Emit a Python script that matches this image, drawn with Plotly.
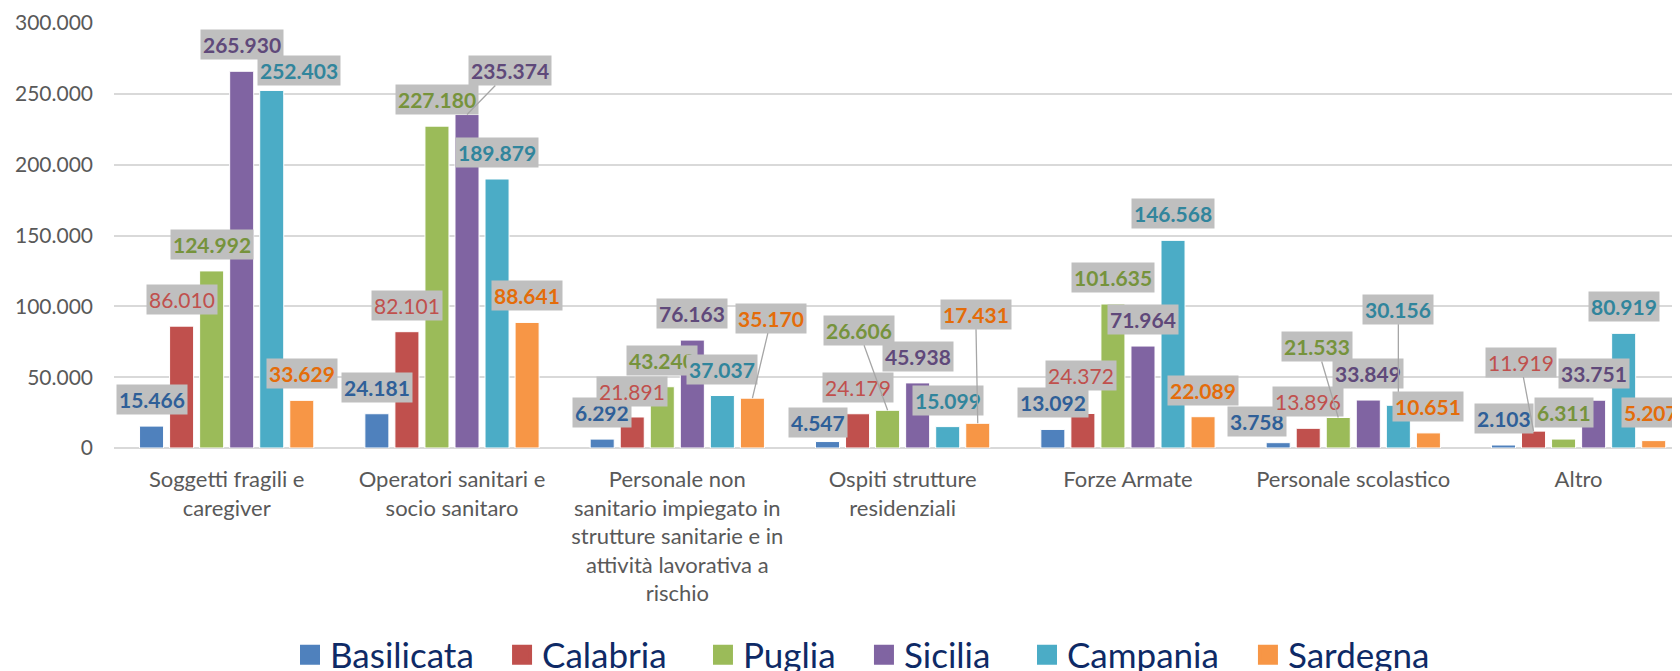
import plotly.graph_objects as go

categories = [
    "Soggetti fragili e<br>caregiver",
    "Operatori sanitari e<br>socio sanitaro",
    "Personale non<br>sanitario impiegato in<br>strutture sanitarie e in<br>attività lavorativa a<br>rischio",
    "Ospiti strutture<br>residenziali",
    "Forze Armate",
    "Personale scolastico",
    "Altro",
]

basilicata = [15466, 24181, 6292, 4547, 13092, 3758, 2103]
calabria = [86010, 82101, 21891, 24179, 24372, 13896, 11919]
puglia = [124992, 227180, 43240, 26606, 101635, 21533, 6311]
sicilia = [265930, 235374, 76163, 45938, 71964, 33849, 33751]
campania = [252403, 189879, 37037, 15099, 146568, 30156, 80919]
sardegna = [33629, 88641, 35170, 17431, 22089, 10651, 5207]

series = [
    ("Basilicata", basilicata, "#4F81BD", "#2F5F98", True),
    ("Calabria", calabria, "#C0504D", "#C0504D", False),
    ("Puglia", puglia, "#9BBB59", "#76933C", True),
    ("Sicilia", sicilia, "#8064A2", "#5F497A", True),
    ("Campania", campania, "#4BACC6", "#31859C", True),
    ("Sardegna", sardegna, "#F79646", "#E46C0A", True),
]

# label moves done by hand in the original: (series, category) -> (dx px, lift px, leader line)
label_moves = {
    (4, 0): (27, 20, False),
    (3, 1): (43, 44, True),
    (5, 2): (19, 80, True),
    (1, 2): (0, 25, False),
    (0, 3): (-10, 19, False),
    (2, 3): (-29, 80, True),
    (5, 3): (-2, 109, True),
    (1, 4): (-2, 38, False),
    (0, 5): (-21, 21, False),
    (2, 5): (-21, 71, True),
    (4, 5): (0, 96, True),
    (1, 6): (-13, 69, True),
    (5, 6): (-3, 28, False),
}

# one small legend per series, so the spacing can follow the original
legend_x = [0.1124, 0.2478, 0.3761, 0.4789, 0.5830, 0.7241]

bargap = 0.2
font = "Lato, 'Open Sans', sans-serif"

fig = go.Figure()
for name, vals, color, _, _ in series:
    fig.add_trace(go.Bar(
        name=name, x=categories, y=vals, showlegend=False,
        marker=dict(color=color, line=dict(color="white", width=1)),
    ))
# legend entries with bigger squares than the bar default
for i, (name, vals, color, _, _) in enumerate(series):
    fig.add_trace(go.Scatter(
        name=name, x=[None], y=[None], mode="markers",
        legend="legend" if i == 0 else f"legend{i + 1}",
        marker=dict(symbol="square", size=20, color=color, line=dict(color=color, width=4)),
    ))

annotations = []
slot = (1 - bargap) / len(series)
for si, (name, vals, _, tcolor, bold) in enumerate(series):
    for ci, v in enumerate(vals):
        dx, lift, leader = label_moves.get((si, ci), (0, 26.5, False))
        txt = f"{v:,}".replace(",", ".")
        annotations.append(dict(
            x=ci + (si - 2.5) * slot, y=v, xref="x", yref="y",
            text=f"<b>{txt}</b>" if bold else txt,
            showarrow=True, arrowhead=0, arrowwidth=1.3,
            arrowcolor="#A6A6A6" if leader else "rgba(0,0,0,0)",
            ax=dx, ay=-lift,
            bgcolor="#BFBFBF", borderpad=2,
            font=dict(family=font, size=21, color=tcolor),
        ))

# the page body adds an 8px offset, so the figure is 8px smaller than the window
fig.update_layout(
    width=1672, height=663,
    barmode="group", bargap=bargap, bargroupgap=0.2,
    separators=",.",
    plot_bgcolor="white", paper_bgcolor="white",
    margin=dict(l=106, r=0, t=15, b=223, autoexpand=False),
    xaxis=dict(
        type="category", range=[-0.5, 6.45], showgrid=False, showline=False,
        tickfont=dict(family=font, size=22, color="#595959"),
        ticklabelstandoff=16,
    ),
    yaxis=dict(
        range=[0, 300000], dtick=50000, tickformat=",.0f",
        gridcolor="#D9D9D9", gridwidth=1.5,
        zeroline=True, zerolinecolor="#D9D9D9", zerolinewidth=2.2,
        tickfont=dict(family=font, size=21, color="#595959"),
        ticklabelstandoff=20,
    ),
    annotations=annotations,
)
for i, lx in enumerate(legend_x):
    key = "legend" if i == 0 else f"legend{i + 1}"
    fig.update_layout({key: dict(
        orientation="h", x=lx, xanchor="left", y=-0.487, yanchor="middle",
        bgcolor="rgba(0,0,0,0)",
        font=dict(family=font, size=35, color="#0E2A66"),
    )})

fig.write_html("out.html")
